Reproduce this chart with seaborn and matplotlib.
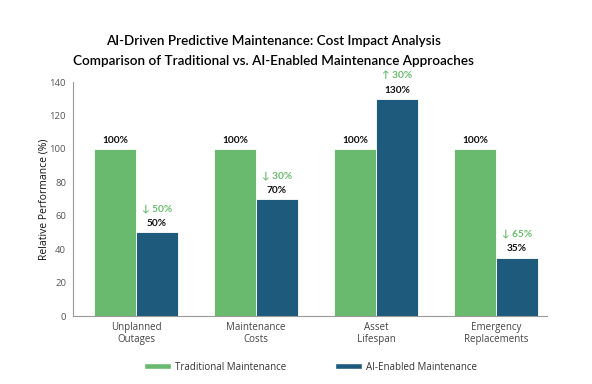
import matplotlib
matplotlib.use("Agg")
import matplotlib.pyplot as plt
import seaborn as sns
import pandas as pd
from matplotlib.patches import Patch

categories = ["Unplanned\nOutages", "Maintenance\nCosts", "Asset\nLifespan", "Emergency\nReplacements"]
traditional = [100, 100, 100, 100]
ai_enabled = [50, 70, 130, 35]
changes = ["↓ 50%", "↓ 30%", "↑ 30%", "↓ 65%"]
series_names = ["Traditional Maintenance", "AI-Enabled Maintenance"]
yticks = [0, 20, 40, 60, 80, 100, 120, 140]

GREEN = "#69BA6E"
BLUE = "#1E5A7C"

sns.set_theme(style="white")
plt.rcParams["font.family"] = ["Open Sans", "DejaVu Sans"]
BOLD_FAM = ["Lato", "DejaVu Sans"]

df = pd.DataFrame({
    "Category": categories * 2,
    "Value": traditional + ai_enabled,
    "Series": [series_names[0]] * 4 + [series_names[1]] * 4,
})

fig = plt.figure(figsize=(5.92, 3.84), dpi=100)
ax = fig.add_axes([73/592, 1 - 316/384, (547-73)/592, (316-82)/384])

sns.barplot(data=df, x="Category", y="Value", hue="Series", palette=[GREEN, BLUE],
            width=0.7, ax=ax, legend=False, edgecolor="white", linewidth=0.6, saturation=1)

ax.set_xlim(-0.525, 3.425)
ax.set_ylim(0, 140)
ax.set_yticks(yticks)
ax.tick_params(axis="y", labelsize=6.8, labelcolor="#555555", length=3, color="#888888", width=0.6, pad=2)
ax.tick_params(axis="x", labelsize=7, labelcolor="#444444", length=0, pad=4)
ax.set_xlabel("")
ax.set_ylabel("Relative Performance (%)", fontsize=7.5, color="#111111", labelpad=0)
for s in ["top", "right"]:
    ax.spines[s].set_visible(False)
for s in ["left", "bottom"]:
    ax.spines[s].set_color("#999999")
    ax.spines[s].set_linewidth(0.8)

bars_trad = ax.containers[0]
bars_ai = ax.containers[1]
for i, p in enumerate(bars_trad):
    ax.text(p.get_x() + p.get_width()/2, p.get_height() + 2.5, f"{traditional[i]}%",
            ha="center", va="bottom", fontsize=7.3, fontweight="bold", color="#111111",
            family=BOLD_FAM)
for i, p in enumerate(bars_ai):
    ax.text(p.get_x() + p.get_width()/2, p.get_height() + 2.5, f"{ai_enabled[i]}%",
            ha="center", va="bottom", fontsize=7.3, fontweight="bold", color="#111111",
            family=BOLD_FAM)
    ax.text(p.get_x() + p.get_width()/2, p.get_height() + 11.5, changes[i],
            ha="center", va="bottom", fontsize=7.3, fontweight="bold", color=GREEN,
            family=BOLD_FAM)

for y, t in [(41, "AI-Driven Predictive Maintenance: Cost Impact Analysis"),
             (61, "Comparison of Traditional vs. AI-Enabled Maintenance Approaches")]:
    fig.text(273/592, 1 - y/384, t, ha="center", va="center", fontsize=9.7, color="#000000",
             fontweight="semibold", family=["Lato", "DejaVu Sans"])

handles = [Patch(facecolor=GREEN), Patch(facecolor=BLUE)]
fig.legend(handles, series_names, loc="center", bbox_to_anchor=(0.525, 1 - 367/384), ncol=2,
           frameon=False, fontsize=7, handlelength=2.8, handleheight=0.5, columnspacing=5,
           handletextpad=0.4, labelcolor="#333333")

fig.savefig("out.png", dpi=100)
